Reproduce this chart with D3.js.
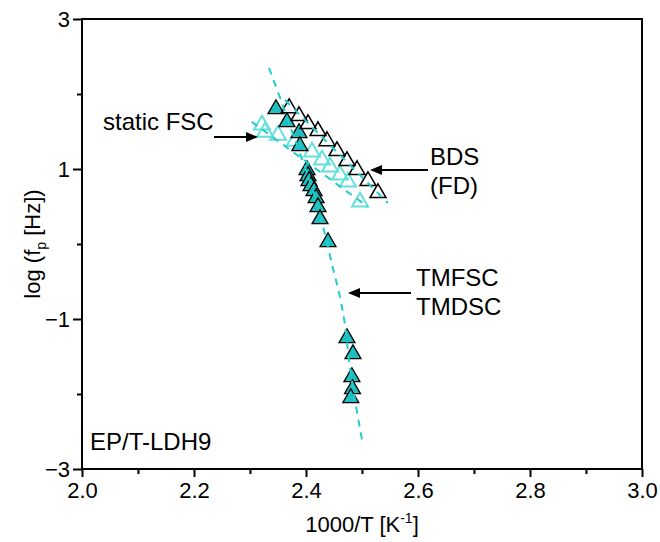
<!DOCTYPE html>
<html>
<head>
<meta charset="utf-8">
<script src="https://cdn.jsdelivr.net/npm/d3@7"></script>
<style>
  body { margin: 0; background: #fff; }
  svg { display: block; font-family: "Liberation Sans", Arial, sans-serif; }
</style>
</head>
<body>
<svg id="chart" width="660" height="542"></svg>
<script>
// BDS (FD) - open black triangles
const bdsX = [2.370, 2.3875, 2.4036, 2.4214, 2.4375, 2.4554, 2.4732, 2.4911, 2.5107, 2.5286];
const bdsY = [1.813, 1.707, 1.600, 1.507, 1.373, 1.240, 1.107, 0.987, 0.840, 0.680];

// static FSC - open light cyan triangles
const fscX = [2.3214, 2.3268, 2.35, 2.380, 2.4107, 2.4286, 2.4429, 2.4607, 2.475, 2.4964];
const fscY = [1.587, 1.493, 1.453, 1.373, 1.227, 1.120, 1.027, 0.920, 0.827, 0.560];

// TMFSC / TMDSC - filled cyan triangles
const tmX = [2.3464, 2.366, 2.3875, 2.389, 2.4018, 2.4036, 2.4054, 2.409, 2.4143, 2.418, 2.4214, 2.425, 2.4393, 2.4732, 2.4839, 2.482, 2.4830, 2.480];
const tmY = [1.800, 1.627, 1.480, 1.307, 0.987, 0.907, 0.840, 0.773, 0.707, 0.613, 0.493, 0.333, 0.027, -1.253, -1.467, -1.773, -1.933, -2.053];

// fit curves (dashed)
const fitTmX = [2.3339, 2.357, 2.3804, 2.400, 2.4179, 2.432, 2.448, 2.4607, 2.4696, 2.4768, 2.4875, 2.500];
const fitTmY = [2.347, 1.880, 1.387, 0.987, 0.587, 0.187, -0.320, -0.707, -1.080, -1.547, -2.080, -2.613];
const fitBdsX = [2.3625, 2.546];
const fitBdsY = [1.920, 0.547];
const fitFscX = [2.303, 2.511];
const fitFscY = [1.630, 0.493];

const xTicks = [2.0, 2.2, 2.4, 2.6, 2.8, 3.0];
const xMinor = [2.1, 2.3, 2.5, 2.7, 2.9];
const yTicks = [-3, -1, 1, 3];
const yMinor = [-2, 0, 2];

const svg = d3.select("#chart");
const margin = { left: 82, top: 19, right: 18, bottom: 73 };
const width = 660 - margin.left - margin.right;
const height = 542 - margin.top - margin.bottom;
const fs = "22px";
const fsNote = "24px";

const x = d3.scaleLinear().domain([2.0, 3.0]).range([0, width]);
const y = d3.scaleLinear().domain([-3, 3]).range([height, 0]);

const g = svg.append("g").attr("transform", `translate(${margin.left},${margin.top})`);

const zip = (xs, ys) => xs.map((v, i) => [v, ys[i]]);
const line = d3.line().x(d => x(d[0])).y(d => y(d[1]));
const curve = d3.line().x(d => x(d[0])).y(d => y(d[1])).curve(d3.curveCatmullRom);

const cyanLine = "#22cccc";
const tri = d3.symbol(d3.symbolTriangle, 110);

// static FSC
g.selectAll(".fsc").data(zip(fscX, fscY)).join("path")
  .attr("d", tri)
  .attr("transform", d => `translate(${x(d[0])},${y(d[1])})`)
  .attr("fill", "none").attr("stroke", "#66e0da").attr("stroke-width", 2);

// TM filled
g.selectAll(".tm").data(zip(tmX, tmY)).join("path")
  .attr("d", tri)
  .attr("transform", d => `translate(${x(d[0])},${y(d[1])})`)
  .attr("fill", "#1fbfbf").attr("stroke", "#000").attr("stroke-width", 1.3);

// BDS open
g.selectAll(".bds").data(zip(bdsX, bdsY)).join("path")
  .attr("d", tri)
  .attr("transform", d => `translate(${x(d[0])},${y(d[1])})`)
  .attr("fill", "none").attr("stroke", "#000").attr("stroke-width", 1.5);

// dashed fit lines
[[fitFscX, fitFscY, line], [fitBdsX, fitBdsY, line], [fitTmX, fitTmY, curve]].forEach(([xs, ys, gen]) => {
  g.append("path")
    .attr("d", gen(zip(xs, ys)))
    .attr("fill", "none")
    .attr("stroke", cyanLine)
    .attr("stroke-width", 2)
    .attr("stroke-dasharray", "7,6");
});

// frame
g.append("rect").attr("width", width).attr("height", height)
  .attr("fill", "none").attr("stroke", "#000").attr("stroke-width", 2);

// axes
g.append("g").attr("transform", `translate(0,${height})`)
  .call(d3.axisBottom(x).tickValues(xTicks).tickFormat(d3.format(".1f")).tickSize(8).tickPadding(5));
g.append("g").attr("transform", `translate(0,${height})`)
  .call(d3.axisBottom(x).tickValues(xMinor).tickFormat("").tickSize(5));
g.append("g")
  .call(d3.axisLeft(y).tickValues(yTicks).tickFormat(d3.format("d")).tickSize(9).tickPadding(3));
g.append("g")
  .call(d3.axisLeft(y).tickValues(yMinor).tickFormat("").tickSize(5));

g.selectAll(".domain").remove();
g.selectAll(".tick line").attr("stroke", "#000").attr("stroke-width", 2);
g.selectAll(".tick text").attr("fill", "#000").style("font-size", fs)
  .style("font-family", "'Liberation Sans', Arial, sans-serif");

// axis titles
const xt = svg.append("text")
  .attr("x", margin.left + width / 2).attr("y", 532)
  .attr("text-anchor", "middle").style("font-size", fs);
xt.append("tspan").text("1000/T [K");
xt.append("tspan").attr("dy", -9).style("font-size", "14px").text("-1");
xt.append("tspan").attr("dy", 9).text("]");

const yt = svg.append("text")
  .attr("transform", `translate(40,${margin.top + height / 2}) rotate(-90)`)
  .attr("text-anchor", "middle").style("font-size", fs);
yt.append("tspan").text("log (f");
yt.append("tspan").attr("dy", 6).style("font-size", "14px").text("p");
yt.append("tspan").attr("dy", -6).text(" [Hz])");

// annotations
function arrow(x1, y1, x2, y2) {
  const ang = Math.atan2(y2 - y1, x2 - x1);
  const L = 12, W = 5;
  const bx = x2 - L * Math.cos(ang), by = y2 - L * Math.sin(ang);
  svg.append("line").attr("x1", x1).attr("y1", y1).attr("x2", bx).attr("y2", by)
    .attr("stroke", "#000").attr("stroke-width", 2);
  svg.append("path")
    .attr("d", `M${x2},${y2}L${bx - W * Math.sin(ang)},${by + W * Math.cos(ang)}L${bx + W * Math.sin(ang)},${by - W * Math.cos(ang)}Z`)
    .attr("fill", "#000");
}

const label = (tx, ty, s) => svg.append("text").attr("x", tx).attr("y", ty)
  .style("font-size", fsNote).attr("fill", "#000").text(s);

label(103, 130, "static FSC");
arrow(214, 137, 258, 137);
label(430, 165, "BDS");
label(430, 194, "(FD)");
arrow(428, 170, 370, 170);
label(416, 286, "TMFSC");
label(416, 315, "TMDSC");
arrow(411, 293, 348, 293);
label(90, 450, "EP/T-LDH9");
</script>
</body>
</html>
